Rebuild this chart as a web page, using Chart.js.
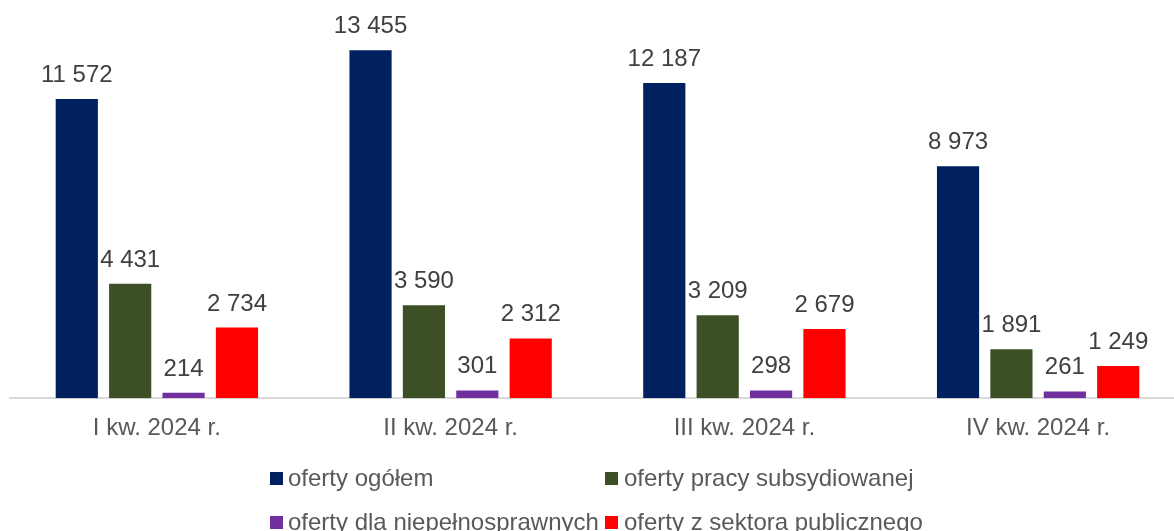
<!DOCTYPE html>
<html>
<head>
<meta charset="utf-8">
<script src="https://cdn.jsdelivr.net/npm/chart.js@4/dist/chart.umd.min.js"></script>
<style>
  html, body { margin: 0; padding: 0; background: #ffffff; overflow: hidden; width: 1174px; height: 531px; }
  #wrap { position: relative; width: 1186px; height: 531px; }
  #legend { position: absolute; left: 0; top: 0; width: 1174px; height: 531px; pointer-events: none;
            font-family: "Liberation Sans", Arial, sans-serif; font-size: 24px; color: #595959; }
  .item { position: absolute; height: 26px; display: flex; align-items: center; white-space: nowrap; }
  .sq { width: 13px; height: 13px; margin-right: 5px; flex: none; }
</style>
</head>
<body>
<div id="wrap">
  <canvas id="c" width="1186" height="531"></canvas>
  <div id="legend"></div>
</div>
<script>
const categories = ['I kw. 2024 r.', 'II kw. 2024 r.', 'III kw. 2024 r.', 'IV kw. 2024 r.'];
const seriesNames = ['oferty ogółem', 'oferty pracy subsydiowanej', 'oferty dla niepełnosprawnych', 'oferty z sektora publicznego'];
const ofertyOgolem = [11572, 13455, 12187, 8973];
const ofertySubsydiowane = [4431, 3590, 3209, 1891];
const ofertyNiepelnosprawni = [214, 301, 298, 261];
const ofertyPubliczne = [2734, 2312, 2679, 1249];
const seriesColors = ['#002060', '#3D4F25', '#7030A0', '#FF0000'];

const seriesValues = [ofertyOgolem, ofertySubsydiowane, ofertyNiepelnosprawni, ofertyPubliczne];

function fmt(v) { return String(v).replace(/\B(?=(\d{3})+(?!\d))/g, ' '); }

const valueLabels = {
  id: 'valueLabels',
  afterDatasetsDraw(chart) {
    const ctx = chart.ctx;
    ctx.save();
    ctx.font = '24px "Liberation Sans", Arial, sans-serif';
    ctx.fillStyle = '#404040';
    ctx.textAlign = 'center';
    ctx.textBaseline = 'alphabetic';
    chart.data.datasets.forEach((ds, di) => {
      const meta = chart.getDatasetMeta(di);
      meta.data.forEach((bar, i) => {
        ctx.fillText(fmt(ds.data[i]), bar.x, bar.y - 17);
      });
    });
    ctx.restore();
  }
};

const chart = new Chart(document.getElementById('c'), {
  type: 'bar',
  data: {
    labels: categories,
    datasets: seriesValues.map((vals, i) => ({
      label: seriesNames[i],
      data: vals,
      backgroundColor: seriesColors[i],
      borderWidth: 0,
      barPercentage: 0.79,
      categoryPercentage: 0.727
    }))
  },
  options: {
    responsive: false,
    animation: false,
    devicePixelRatio: 1,
    layout: { padding: { left: 10, right: 1, top: 0, bottom: 72 } },
    plugins: { legend: { display: false }, tooltip: { enabled: false } },
    scales: {
      x: {
        grid: { display: false, drawTicks: false },
        border: { display: true, color: '#D9D9D9', width: 2 },
        ticks: { color: '#595959', padding: 16, font: { family: '"Liberation Sans", Arial, sans-serif', size: 24 } }
      },
      y: { display: false, min: 0, max: 15400 }
    }
  },
  plugins: [valueLabels]
});

// HTML legend built from chart datasets, laid out in two columns
const legendEl = document.getElementById('legend');
const colX = [270, 605];
const rowY = [465, 509];
chart.data.datasets.forEach((ds, i) => {
  const item = document.createElement('div');
  item.className = 'item';
  item.style.left = colX[i % 2] + 'px';
  item.style.top = rowY[Math.floor(i / 2)] + 'px';
  const sq = document.createElement('span');
  sq.className = 'sq';
  sq.style.background = ds.backgroundColor;
  if (i % 2 === 1) sq.style.marginRight = '6px';
  const txt = document.createElement('span');
  txt.textContent = ds.label;
  item.appendChild(sq);
  item.appendChild(txt);
  legendEl.appendChild(item);
});
</script>
</body>
</html>
